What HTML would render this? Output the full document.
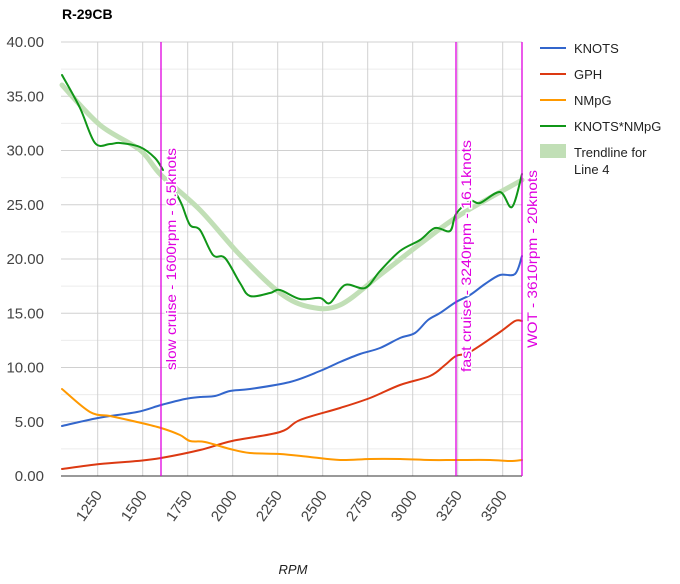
<!DOCTYPE html>
<html><head><meta charset="utf-8"><style>
body{margin:0;background:#fff;}
svg{display:block;font-family:"Liberation Sans",Arial,sans-serif;}
</style></head><body>
<svg id="s" width="680" height="584" viewBox="0 0 680 584">
<text x="62" y="19" font-size="14" font-weight="bold" fill="#000">R-29CB</text>
<g id="grid"></g>
<g id="series"></g>
<line x1="61" y1="476" x2="522" y2="476" stroke="#333" stroke-width="1"/>
<g stroke="#e000e0" stroke-width="1.3">
<line x1="161" y1="42" x2="161" y2="476"/>
<line x1="456" y1="42" x2="456" y2="476"/>
<line x1="522" y1="42" x2="522" y2="476"/>
</g>
<g id="lbl" font-size="14" fill="#e000e0" stroke="#fff" stroke-width="3" paint-order="stroke" stroke-linejoin="round">
<text transform="translate(176,370) rotate(-90)" textLength="222" lengthAdjust="spacingAndGlyphs">slow cruise - 1600rpm - 6.5knots</text>
<text transform="translate(471,372) rotate(-90)" textLength="232" lengthAdjust="spacingAndGlyphs">fast cruise - 3240rpm - 16.1knots</text>
<text transform="translate(537,348) rotate(-90)" textLength="178" lengthAdjust="spacingAndGlyphs">WOT - 3610rpm - 20knots</text>
</g>
<g font-size="13" fill="#222">
<line x1="540" y1="48" x2="566" y2="48" stroke="#3366cc" stroke-width="2"/><text x="574" y="53">KNOTS</text>
<line x1="540" y1="74" x2="566" y2="74" stroke="#dc3912" stroke-width="2"/><text x="574" y="79">GPH</text>
<line x1="540" y1="100" x2="566" y2="100" stroke="#ff9900" stroke-width="2"/><text x="574" y="105">NMpG</text>
<line x1="540" y1="126" x2="566" y2="126" stroke="#109618" stroke-width="2"/><text x="574" y="131">KNOTS*NMpG</text>
<rect x="540" y="144" width="26" height="14" fill="#c1dfb6"/><text x="574" y="157">Trendline for</text><text x="574" y="174">Line 4</text>
</g>
<text x="293" y="574" font-size="13" font-style="italic" fill="#222" text-anchor="middle">RPM</text>
</svg>
<script>
var NS="http://www.w3.org/2000/svg";
function el(p,t,a,txt){var e=document.createElementNS(NS,t);for(var k in a)e.setAttribute(k,a[k]);if(txt)e.textContent=txt;p.appendChild(e);return e;}
var g=document.getElementById("grid");
function X(r){return 97.7+(r-1250)*0.18;}
function Y(v){return 476-v*10.85;}
for(var v=2.5;v<40;v+=5){el(g,"line",{x1:61,x2:522,y1:Y(v),y2:Y(v),stroke:"#ececec"});}
for(var v=5;v<=40;v+=5){el(g,"line",{x1:61,x2:522,y1:Y(v),y2:Y(v),stroke:"#d0d0d0"});}
for(var v=0;v<=40;v+=5){el(g,"text",{x:44,y:Y(v)+5,"font-size":15,fill:"#444","text-anchor":"end"},v.toFixed(2));}
for(var r=1250;r<=3500;r+=250){el(g,"line",{x1:X(r),x2:X(r),y1:42,y2:476,stroke:"#d0d0d0"});
 el(g,"text",{transform:"translate("+(X(r)+5)+",495) rotate(-55)","font-size":15,fill:"#444","text-anchor":"end"},String(r));}
function path(pts,stroke,w){var d="M"+pts[0][0]+","+pts[0][1];
 for(var i=0;i<pts.length-1;i++){var p0=pts[i-1]||pts[i],p1=pts[i],p2=pts[i+1],p3=pts[i+2]||p2;
  var c1=[p1[0]+(p2[0]-p0[0])/6,p1[1]+(p2[1]-p0[1])/6],c2=[p2[0]-(p3[0]-p1[0])/6,p2[1]-(p3[1]-p1[1])/6];
  d+=" C"+c1+" "+c2+" "+p2;}
 el(document.getElementById("series"),"path",{d:d,fill:"none",stroke:stroke,"stroke-width":w,"stroke-linejoin":"round","stroke-linecap":"round"});}
path([[62,85],[100,125],[140,150],[161,175],[200,210],[240,255],[280,293],[310,307],[340,305],[380,275],[420,244],[460,215],[522,180]],"#c1dfb6",5);
path([[62,426],[98,418],[137,412],[161,405],[185,399],[200,397],[215,396],[230,391],[250,389],[290,382],[320,371],[340,362],[360,354],[380,348],[400,338],[415,333],[428,320],[440,313],[456,302],[470,295],[485,284],[500,275],[515,274],[522,256]],"#3366cc",2);
path([[62,469],[100,464],[137,461],[161,458],[200,450],[232,441],[280,432],[300,420],[340,408],[370,398],[400,385],[430,376],[445,365],[456,356],[470,352],[500,332],[515,321],[522,321]],"#dc3912",2);
path([[62,389],[90,412],[110,416],[137,422],[161,428],[180,435],[190,441],[205,442],[230,449],[250,453],[280,454],[310,457],[340,460],[370,459],[400,459],[430,460],[456,460],[490,460],[510,461],[522,460]],"#ff9900",2);
path([[62,75],[80,108],[95,143],[110,144],[120,143],[140,147],[155,158],[163,170]],"#109618",2);
path([[176,193],[182,205],[190,225],[200,230],[213,255],[225,258],[240,283],[250,296],[270,293],[280,290],[300,299],[320,298],[330,303],[345,285],[365,288],[380,271],[400,251],[420,240],[435,228],[450,231],[456,214],[470,201],[480,203],[500,192],[512,207],[522,174]],"#109618",2);
var s=document.getElementById("s");s.appendChild(document.getElementById("lbl"));
</script>
</body></html>
